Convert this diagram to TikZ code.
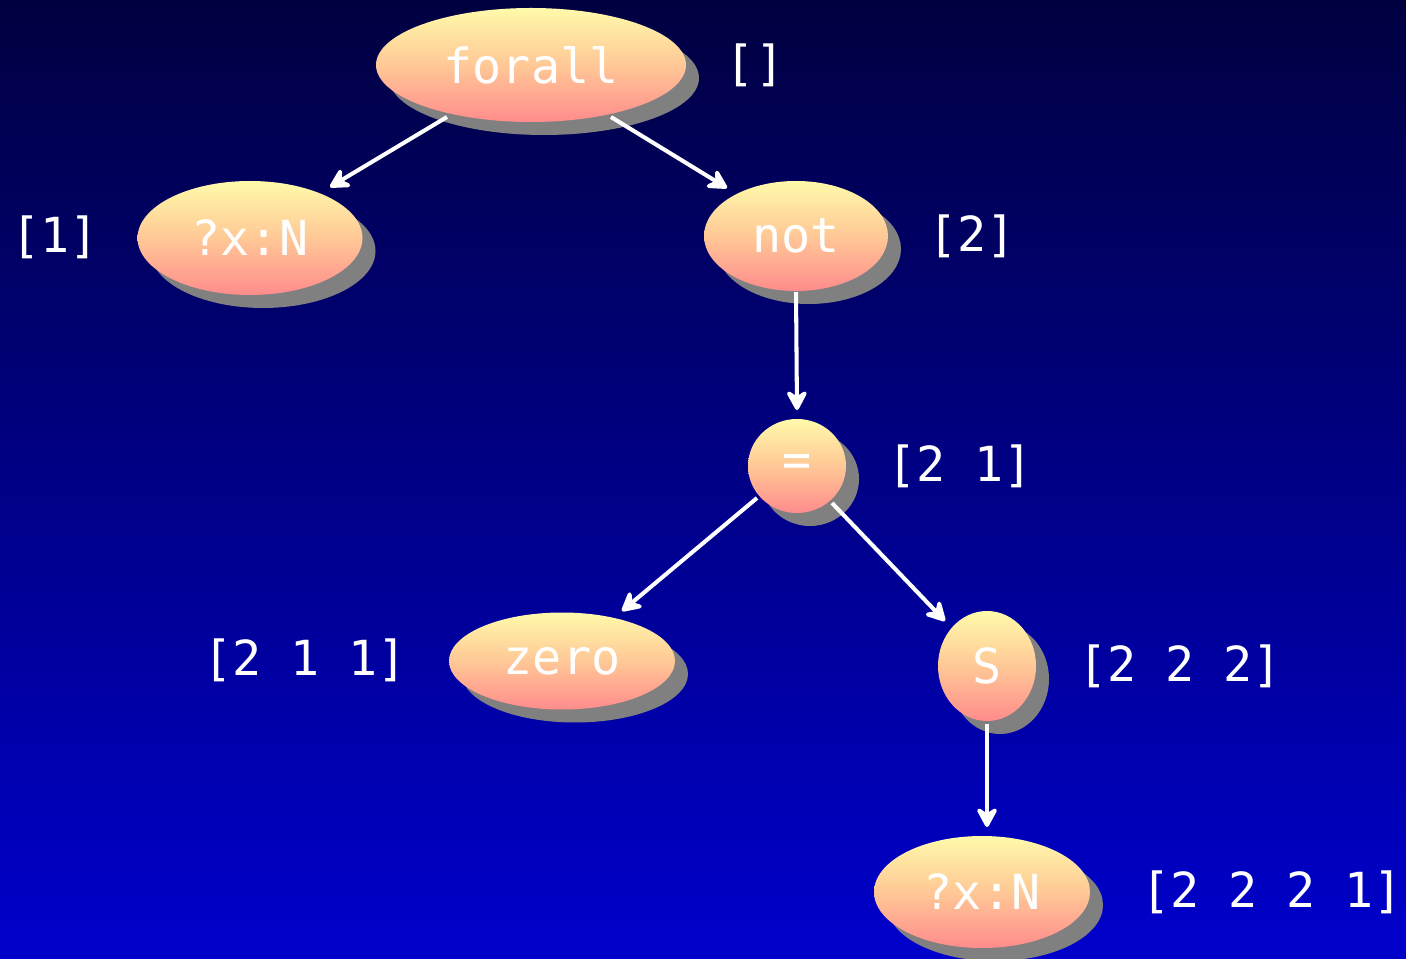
\documentclass[tikz,border=0pt]{standalone}
\usepackage{fontspec}
\setmonofont{DejaVu Sans Mono}
\usetikzlibrary{shapes.geometric,arrows.meta,calc}
\definecolor{bgtop}{RGB}{0,0,64}
\definecolor{bgbot}{RGB}{0,0,204}
\definecolor{balltop}{RGB}{255,250,170}
\definecolor{ballmid}{RGB}{255,200,150}
\definecolor{ballbot}{RGB}{255,140,140}
\definecolor{shadowgrey}{RGB}{128,128,128}
\tikzset{
  term/.style={ellipse, inner sep=0pt, top color=balltop, bottom color=ballbot,
    middle color=ballmid, text=white, font=\ttfamily\fontsize{27.5}{32}\selectfont,
    draw=none},
  termshadow/.style={ellipse, inner sep=0pt, fill=shadowgrey, draw=none},
  poslabel/.style={text=white, font=\ttfamily\fontsize{27.5}{32}\selectfont, inner sep=0pt},
  connector/.style={draw=white, line width=2.3pt,
    -{Stealth[length=14pt, width=15pt, inset=5pt, round]}}
}
\begin{document}
\begin{tikzpicture}
\shade[top color=bgtop, bottom color=bgbot] (0,0) rectangle (28.12,-19.18);
\useasboundingbox (0,0) rectangle (28.12,-19.18);

% shadows
\node[termshadow, minimum width=6.2cm, minimum height=2.28cm] (forallS) at (10.88,-1.56) {};
\node[termshadow, minimum width=4.5cm, minimum height=2.28cm] (varaS) at (5.26,-5.02) {};
\node[termshadow, minimum width=3.68cm, minimum height=2.2cm] (notS) at (16.18,-4.98) {};
\node[termshadow, minimum width=1.96cm, minimum height=1.88cm] (eqS) at (16.2,-9.58) {};
\node[termshadow, minimum width=4.52cm, minimum height=1.94cm] (zeroS) at (11.5,-13.48) {};
\node[termshadow, minimum width=1.96cm, minimum height=2.2cm] (sucS) at (20.0,-13.58) {};
\node[termshadow, minimum width=4.32cm, minimum height=2.24cm] (varbS) at (19.9,-18.1) {};

% terms
\node[term, minimum width=6.2cm, minimum height=2.28cm] (forall) at (10.62,-1.3) {forall};
\node[term, minimum width=4.5cm, minimum height=2.28cm] (vara) at (5.0,-4.76) {?x:N};
\node[term, minimum width=3.68cm, minimum height=2.2cm] (not) at (15.92,-4.72) {not};
\node[term, minimum width=1.96cm, minimum height=1.88cm] (eq) at (15.94,-9.32) {=};
\node[term, minimum width=4.52cm, minimum height=1.94cm] (zero) at (11.24,-13.22) {zero};
\node[term, minimum width=1.96cm, minimum height=2.2cm] (suc) at (19.74,-13.32) {S};
\node[term, minimum width=4.32cm, minimum height=2.24cm] (varb) at (19.64,-17.84) {?x:N};

% positions
\node[poslabel] (pforall) at (15.1,-1.3) {[]};
\node[poslabel] (pvara) at (1.1,-4.74) {[1]};
\node[poslabel] (pnot) at (19.44,-4.72) {[2]};
\node[poslabel] (peq) at (19.2,-9.32) {[2 1]};
\node[poslabel] (pzero) at (6.1,-13.2) {[2 1 1]};
\node[poslabel] (psuc) at (23.6,-13.32) {[2 2 2]};
\node[poslabel] (pvarb) at (25.44,-17.84) {[2 2 2 1]};

% edges
\draw[connector] ($(forall)+(-1.68,-1.04)$) -- ($(vara)+(1.6,1.02)$);
\draw[connector] ($(forall)+(1.6,-1.04)$) -- ($(not)+(-1.38,0.96)$);
\draw[connector] ($(not)+(0,-1.12)$) -- ($(eq)+(0,1.12)$);
\draw[connector] ($(eq)+(-0.8,-0.64)$) -- ($(zero)+(1.2,1.0)$);
\draw[connector] ($(eq)+(0.7,-0.74)$) -- ($(suc)+(-0.84,0.9)$);
\draw[connector] ($(suc)+(0,-1.16)$) -- ($(varb)+(0.1,1.3)$);
\end{tikzpicture}
\end{document}
